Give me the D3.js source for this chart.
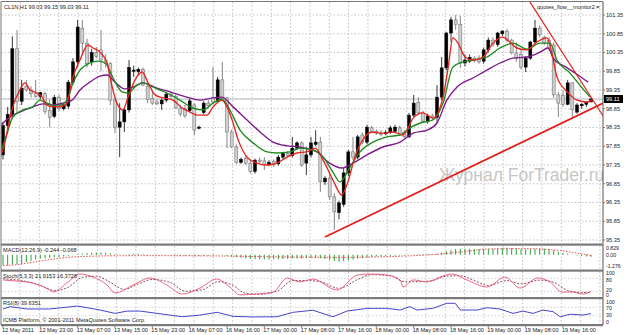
<!DOCTYPE html>
<meta charset="utf-8">
<style>
  body { margin: 0; background: #fff; }
  svg { display: block; font-family: "Liberation Sans", Arial, sans-serif; }
</style>
<body>
<svg id="chart" width="624" height="335"></svg>
<script src="https://cdn.jsdelivr.net/npm/d3@7/dist/d3.min.js"></script>
<script>

// time axis labels, one every 8 bars
var timeLabels = ["12 May 2011","12 May 23:00","13 May 07:00","13 May 15:00","15 May 23:00","16 May 07:00",
  "16 May 16:00","17 May 00:00","17 May 08:00","17 May 16:00","18 May 00:00","18 May 08:00",
  "18 May 16:00","19 May 00:00","19 May 08:00","19 May 16:00"];
var priceTicks = [101.35,100.85,100.35,99.85,99.35,98.85,98.35,97.85,97.35,96.85,96.35,95.85,95.35];

// H1 candles: open, high, low, close
var candles = [
  [97.62,98.50,97.50,98.40],[98.40,98.90,98.20,98.70],[98.70,100.78,98.60,100.45],[100.45,100.95,98.75,99.05],
  [99.05,99.62,98.95,99.40],[99.45,99.62,99.30,99.35],[99.35,99.45,99.15,99.25],[99.25,99.62,99.15,99.18],
  [99.18,99.30,99.10,99.28],[99.25,99.30,98.70,98.78],[98.80,99.10,98.35,98.62],[98.65,99.22,98.60,99.15],
  [99.15,99.22,98.78,98.85],[98.85,98.98,98.80,98.95],[98.92,99.62,98.85,99.56],[99.56,100.20,99.50,100.10],
  [100.10,101.22,99.95,101.03],[101.00,101.22,100.30,100.60],[100.60,100.72,99.95,100.05],[100.10,100.45,100.00,100.35],
  [100.35,100.50,100.20,100.25],[100.42,100.95,99.85,100.15],[100.15,100.30,99.95,100.05],[100.05,100.10,98.95,99.08],
  [99.08,99.15,98.20,98.36],[98.36,99.00,97.56,98.50],[98.50,98.90,98.23,98.82],[98.82,100.15,98.75,99.95],
  [99.85,100.00,99.70,99.88],[99.84,99.95,99.75,99.90],[99.90,99.95,99.45,99.48],[99.45,99.50,99.00,99.10],
  [99.12,99.35,98.95,99.00],[99.03,99.10,98.95,98.98],[98.98,99.12,98.82,99.08],[99.08,99.30,99.02,99.24],
  [99.24,99.30,99.12,99.18],[99.18,99.22,98.85,98.87],[98.87,98.95,98.65,98.71],[98.85,98.95,98.60,98.66],
  [98.80,99.12,98.75,99.06],[98.95,99.00,98.15,98.28],[98.33,98.40,98.30,98.36],[98.75,99.05,98.70,99.00],
  [99.00,99.08,98.90,98.93],[99.14,99.96,98.98,99.03],[99.05,99.70,99.00,99.62],[99.62,100.10,99.10,99.14],
  [99.14,99.16,97.80,98.23],[98.23,98.30,97.80,97.83],[97.83,97.90,97.38,97.42],[97.42,97.55,97.38,97.50],
  [97.52,97.60,97.35,97.40],[97.40,97.50,97.12,97.18],[97.18,97.52,97.12,97.48],[97.48,97.55,97.40,97.44],
  [97.46,97.56,97.22,97.36],[97.36,97.48,97.32,97.42],[97.44,97.50,97.30,97.36],[97.38,97.62,97.34,97.56],
  [97.56,97.70,97.50,97.66],[97.66,97.72,97.55,97.60],[97.60,98.10,97.55,97.80],[97.80,97.98,97.75,97.94],
  [97.94,97.98,97.30,97.35],[97.40,97.83,97.08,97.62],[97.62,98.10,97.55,97.94],[97.90,98.28,97.85,97.96],
  [97.96,98.10,96.63,96.90],[96.90,97.05,96.82,97.00],[97.00,97.14,96.42,96.50],[96.50,96.60,95.62,96.10],
  [96.08,96.40,95.90,96.34],[96.30,97.27,96.23,97.14],[97.14,97.75,97.05,97.70],[97.70,98.10,97.48,97.56],
  [97.56,98.15,97.50,98.10],[98.15,98.22,97.90,97.96],[97.96,98.42,97.90,98.36],[98.34,98.40,98.20,98.25],
  [98.25,98.30,98.15,98.20],[98.20,98.28,98.12,98.16],[98.18,98.28,98.14,98.22],[98.22,98.40,98.18,98.34],
  [98.24,98.42,98.20,98.36],[98.34,98.40,98.18,98.20],[98.22,98.28,98.06,98.10],[98.10,98.74,98.07,98.68],
  [98.68,99.22,98.63,99.00],[99.02,99.16,98.68,98.74],[98.74,98.80,98.48,98.52],[98.52,98.72,98.45,98.66],
  [98.66,98.72,98.55,98.62],[98.62,99.48,98.47,99.16],[99.16,100.23,99.08,99.94],[99.94,100.90,99.88,100.87],
  [100.87,101.30,100.63,101.22],[101.22,101.35,100.95,101.10],[101.10,101.33,99.94,100.07],[100.07,100.30,99.98,100.15],
  [100.12,100.30,100.07,100.22],[100.20,100.25,100.08,100.14],[100.20,100.28,100.05,100.10],[100.12,100.48,100.05,100.42],
  [100.42,100.75,100.35,100.68],[100.68,100.75,100.50,100.56],[100.56,100.90,100.50,100.87],[100.85,100.95,100.78,100.92],
  [100.92,100.98,100.62,100.68],[100.68,100.72,100.30,100.34],[100.34,100.62,100.10,100.20],[100.30,100.45,99.90,99.96],
  [99.96,100.25,99.83,100.20],[100.20,100.66,100.15,100.63],[100.63,101.22,100.58,101.00],[101.00,101.08,100.76,100.82],
  [100.76,100.80,100.55,100.60],[100.68,100.76,100.40,100.47],[100.55,100.62,99.14,99.22],[99.22,99.30,98.63,99.00],
  [99.20,99.35,98.90,98.97],[98.97,99.62,98.94,99.54],[99.54,99.56,98.63,98.82],[98.76,99.00,98.72,98.95],
  [98.93,99.00,98.85,98.97],[98.97,99.05,98.90,99.02],[99.03,99.15,99.03,99.11]
];

// moving averages: [bar, price]
var maRed = [[-0.6,97.56],[0.4,97.94],[1.5,98.63],[3.6,99.35],[4.7,99.54],[5.8,99.35],[7.3,99.27],[8.4,99.16],
  [9.4,98.95],[10.7,98.90],[12.2,98.90],[13.7,99.00],[14.8,99.62],[16.5,100.15],[18.2,100.55],[19.3,100.47],
  [20.8,100.36],[22.3,100.07],[23.4,99.43],[24.4,99.00],[25.7,98.82],[26.8,99.16],[28.3,99.62],[29.8,99.83],
  [31.1,99.54],[32.6,99.22],[34.3,99.14],[36.4,99.08],[38.4,98.87],[40.1,98.76],[41.6,98.68],[43.7,98.68],
  [45,98.90],[46.9,99.08],[48,98.90],[49.1,98.55],[50.4,98.02],[52.3,97.56],[54.4,97.40],[56.6,97.35],
  [58.7,97.40],[60.9,97.56],[63,97.67],[65.1,97.70],[66.9,97.80],[68.6,97.48],[70.7,96.95],[72.6,96.55],
  [73.9,96.90],[75.4,97.56],[77.1,98.02],[79.1,98.23],[81.4,98.20],[83.6,98.23],[85.7,98.15],[87.9,98.60],
  [90,98.74],[92.1,98.60],[94.3,99.16],[95.4,99.96],[96.4,100.74],[97.5,100.60],[99,100.23],[100.7,100.15],
  [102.9,100.23],[105,100.60],[107.1,100.76],[108.6,100.63],[110.1,100.47],[112.3,100.42],[114.4,100.63],
  [116.6,100.74],[117.6,100.34],[118.7,99.70],[120.9,99.30],[123,99.08],[125.1,99.03],[126.2,99.08]];
var maGreen = [[-0.6,97.67],[0,97.88],[0.9,98.20],[2.1,98.63],[4.3,98.82],[6.4,98.90],[7.9,99.08],[9.4,99.00],
  [11.6,98.92],[13.7,99.08],[15,99.54],[16.5,99.88],[18.6,100.07],[20.4,100.12],[21.9,100.07],[23.6,99.67],
  [25.5,99.30],[26.8,99.27],[28.7,99.48],[30,99.54],[32.1,99.43],[35.1,99.27],[37.9,99.08],[40.7,98.87],
  [42.9,98.82],[45,99.00],[46.9,99.11],[48.6,98.82],[50.8,98.28],[53.6,97.94],[56.6,97.70],[58.7,97.67],
  [61.5,97.70],[63.6,97.80],[66.4,97.75],[68.6,97.56],[70.7,97.16],[72.2,96.90],[74.4,97.30],[76.5,97.70],
  [79.3,97.96],[82.3,98.10],[85.1,98.15],[87.2,98.34],[89.4,98.47],[92.1,98.55],[94.3,99.00],[96.4,99.96],
  [98.6,100.10],[100.7,100.15],[103.7,100.23],[106.5,100.47],[109.3,100.60],[112.3,100.44],[115.1,100.60],
  [117.2,100.60],[118.7,100.15],[121.5,99.80],[123.6,99.48],[125.8,99.16]];
var maPurple = [[-0.6,98.40],[0,98.47],[1.5,98.63],[3.6,98.76],[6.4,98.90],[8.6,98.98],[10.7,98.95],[12.9,99.00],
  [14.8,99.08],[16.5,99.35],[18.6,99.56],[20.8,99.72],[22.3,99.75],[24,99.56],[26.1,99.38],[27.9,99.43],
  [30,99.54],[33,99.40],[35.8,99.30],[39.4,99.16],[42.2,99.08],[45,99.14],[46.9,99.16],[49.3,98.90],
  [52.3,98.55],[55.1,98.23],[57.9,97.96],[60.9,97.86],[63.6,97.83],[67.3,97.70],[70,97.40],[72.6,97.27],
  [75,97.40],[78,97.62],[81.4,97.83],[85.1,97.96],[87.9,98.20],[90.9,98.28],[93,98.47],[95.1,99.08],
  [97.3,99.43],[100.7,99.67],[103.7,99.88],[106.5,100.07],[109.3,100.20],[112.3,100.23],[115.1,100.36],
  [116.8,100.47],[117.9,100.20],[120.9,99.94],[123.2,99.75],[125.4,99.56]];

// trend lines drawn on the chart: [bar, price]
var supportLine = [[69, 95.43], [129, 99.02]];
var resistanceLine = [[112.9, 101.70], [129, 98.58]];

// MACD(12,26,9): main histogram per bar, signal [bar, value]
var macdMain = [-1.20,-1.22,-1.15,-1.10,-1.05,-0.85,-0.70,-0.55,-0.45,-0.40,
  -0.35,-0.30,-0.25,-0.20,-0.12,-0.05,0.05,
  0.15,0.22,0.25,0.28,0.28,0.25,0.18,0.08,0.02,0.05,0.10,0.12,0.12,
  0.10,0.06,0.03,0.0,-0.02,-0.03,-0.05,-0.08,-0.10,-0.12,-0.12,-0.15,-0.14,-0.12,-0.10,-0.08,-0.05,-0.06,-0.12,-0.20,
  -0.28,-0.35,-0.42,-0.48,-0.52,-0.55,-0.55,-0.56,-0.55,-0.52,-0.50,-0.48,-0.45,-0.42,-0.42,-0.40,-0.38,-0.36,-0.42,-0.50,
  -0.60,-0.72,-0.80,-0.75,-0.65,-0.55,-0.45,-0.38,-0.30,-0.25,-0.20,-0.18,-0.15,-0.12,-0.10,-0.08,-0.08,-0.02,0.05,0.08,
  0.08,0.08,0.07,0.12,0.25,0.42,0.58,0.68,0.72,0.72,
  0.70,0.68,0.66,0.66,0.68,0.70,0.74,0.78,0.83,0.78,
  0.74,0.68,0.64,0.66,0.72,0.74,0.72,0.68,0.52,0.35,
  0.22,0.14,0.02,-0.08,-0.15,-0.20,-0.24];
var macdSignal = [[0,-1.27],[3,-1.15],[6,-0.90],[9,-0.65],[12,-0.42],[16,-0.22],[24,-0.12],[32,-0.10],[40,-0.12],
  [48,-0.15],[56,-0.22],[64,-0.28],[72,-0.30],[80,-0.25],[88,-0.10],[94,0.10],[100,0.45],[104,0.68],
  [112,0.72],[116,0.65],[120,0.45],[124,0.10],[126,-0.07]];

// Stochastic(5,3,3)
var stochMain = [[0,73],[3,68],[6.4,59],[10,27],[10.7,18],[13.7,59],[16.5,100],[19.3,86],[22.3,50],[24,14],
  [27.9,50],[31.5,82],[35.1,50],[38.4,9],[42.2,36],[45.8,77],[48.6,41],[50.8,5],[54.4,9],[57.9,18],[60.9,82],
  [63.6,64],[66.4,77],[71.6,27],[75.9,95],[78.6,100],[82.3,95],[85.1,73],[85.7,41],[87.9,73],[90.9,64],[93.6,86],
  [96.2,100],[99.4,73],[103.7,41],[107.6,86],[110.8,36],[114.6,82],[117.2,64],[119.8,18],[122.1,18],[124.3,9],[126,22]];
var stochSignal = [[0,78],[4,70],[8,48],[11,25],[14,40],[17,85],[20,90],[23,62],[26,30],[29,55],[32,75],[36,60],
  [39,22],[43,30],[46,65],[49,52],[52,12],[55,8],[59,25],[62,70],[65,70],[68,65],[72,35],[76,75],[79,97],[83,92],
  [86,65],[89,65],[92,70],[95,90],[98,92],[101,70],[104,48],[108,70],[111,55],[115,72],[118,62],[121,25],[124,16],[126,16]];

// RSI(8)
var rsiValues = [[0,62],[1.5,73],[5.1,62],[10,62],[16,76],[20.8,57],[24,41],[26.6,52],[29.4,52],[33,41],[38.4,25],
  [42.2,33],[45.9,46],[49.3,27],[53.6,24],[58.7,25],[62.1,46],[66.4,56],[70.7,25],[73.7,52],[78,65],[82.3,65],
  [85.1,57],[87.2,73],[88.7,57],[92.1,65],[95.1,89],[96.9,89],[98,57],[101.6,57],[103.7,68],[106.5,62],[109.3,41],
  [111.4,52],[113.6,41],[115.7,57],[117.9,49],[119.4,25],[121.5,37],[124.3,33],[126,40]];

var lastPrice = 99.11;

var svg = d3.select("#chart");
var plotL = 1, plotR = 603;

var x = d3.scaleLinear().domain([0, 126]).range([3, 591]);
var yMain = d3.scaleLinear().domain([95.35, 101.35]).range([240, 15]);
var yMacd = d3.scaleLinear().domain([-1.276, 0.829]).range([265.7, 247.7]);
var yStoch = d3.scaleLinear().domain([0, 100]).range([296, 274]);
var yRsi = d3.scaleLinear().domain([0, 100]).range([322, 301]);

var panels = [
  {top: 2, bottom: 243},
  {top: 246, bottom: 269.5},
  {top: 272, bottom: 297},
  {top: 299, bottom: 324}
];

svg.append("defs").selectAll("clipPath").data(panels).join("clipPath")
  .attr("id", (d, i) => "clip" + i)
  .append("rect")
  .attr("x", plotL).attr("y", d => d.top)
  .attr("width", plotR - plotL).attr("height", d => d.bottom - d.top);

// vertical grid (fixed pixel spacing, like the terminal)
var gridX = d3.range(20, plotR, 19.33);
panels.forEach(function(p) {
  svg.append("g").selectAll("line").data(gridX).join("line")
    .attr("x1", d => d).attr("x2", d => d)
    .attr("y1", p.top).attr("y2", p.bottom)
    .attr("stroke", "#a9a9a9").attr("stroke-width", 0.7)
    .attr("stroke-dasharray", "1.5,2");
});

// horizontal grid in main panel
svg.append("g").selectAll("line").data(priceTicks).join("line")
  .attr("x1", plotL).attr("x2", plotR)
  .attr("y1", d => yMain(d)).attr("y2", d => yMain(d))
  .attr("stroke", "#a9a9a9").attr("stroke-width", 0.7)
  .attr("stroke-dasharray", "1.5,2");

// level lines in oscillators
svg.append("g").selectAll("line").data([80, 20]).join("line")
  .attr("x1", plotL).attr("x2", plotR)
  .attr("y1", d => yStoch(d)).attr("y2", d => yStoch(d))
  .attr("stroke", "#b5b5b5").attr("stroke-width", 0.6).attr("stroke-dasharray", "1.5,2");
svg.append("g").selectAll("line").data([70, 30]).join("line")
  .attr("x1", plotL).attr("x2", plotR)
  .attr("y1", d => yRsi(d)).attr("y2", d => yRsi(d))
  .attr("stroke", "#b5b5b5").attr("stroke-width", 0.6).attr("stroke-dasharray", "1.5,2");

// watermark
svg.append("text")
  .attr("x", 439).attr("y", 181)
  .attr("font-size", 17.5).attr("fill", "#c6c6c6")
  .text("Журнал ForTrader.ru");

// bid line
svg.append("line")
  .attr("x1", plotL).attr("x2", plotR)
  .attr("y1", yMain(lastPrice)).attr("y2", yMain(lastPrice))
  .attr("stroke", "#a0a0a0").attr("stroke-width", 0.8);

var main = svg.append("g").attr("clip-path", "url(#clip0)");

// candles
main.append("g").selectAll("line").data(candles).join("line")
  .attr("x1", (d, i) => x(i)).attr("x2", (d, i) => x(i))
  .attr("y1", d => yMain(d[1])).attr("y2", d => yMain(d[2]))
  .attr("stroke", d => d[3] >= d[0] ? "#222" : "#777").attr("stroke-width", 0.9);

main.append("g").selectAll("rect").data(candles).join("rect")
  .attr("x", (d, i) => x(i) - 1.5).attr("width", 3)
  .attr("y", d => yMain(Math.max(d[0], d[3])))
  .attr("height", d => Math.max(0.8, Math.abs(yMain(d[0]) - yMain(d[3]))))
  .attr("fill", d => d[3] >= d[0] ? "#000" : "#cfcfcf")
  .attr("stroke", d => d[3] >= d[0] ? "#000" : "#666")
  .attr("stroke-width", 0.5);

// moving averages
var maLine = d3.line().x(d => x(d[0])).y(d => yMain(d[1])).curve(d3.curveMonotoneX);
[[maPurple, "#7d1a8c"], [maGreen, "#1d8a1d"], [maRed, "#e5241e"]].forEach(function(m) {
  main.append("path").datum(m[0])
    .attr("d", maLine).attr("fill", "none")
    .attr("stroke", m[1]).attr("stroke-width", 1.35);
});

// trend lines
var tLine = d3.line().x(d => x(d[0])).y(d => yMain(d[1]));
main.append("path").datum(supportLine).attr("d", tLine)
  .attr("stroke", "#e0201c").attr("stroke-width", 1.8).attr("fill", "none");
main.append("path").datum(resistanceLine).attr("d", tLine)
  .attr("stroke", "#e0201c").attr("stroke-width", 1.2).attr("fill", "none");

// MACD
var macdG = svg.append("g").attr("clip-path", "url(#clip1)");
macdG.append("g").selectAll("line").data(macdMain).join("line")
  .attr("x1", (d, i) => x(i)).attr("x2", (d, i) => x(i))
  .attr("y1", yMacd(0)).attr("y2", d => yMacd(d))
  .attr("stroke", "#2f9e3a").attr("stroke-width", 1);
macdG.append("path").datum(macdSignal)
  .attr("d", d3.line().x(d => x(d[0])).y(d => yMacd(d[1])).curve(d3.curveMonotoneX))
  .attr("fill", "none").attr("stroke", "#e03a3a").attr("stroke-width", 0.9)
  .attr("stroke-dasharray", "1.5,1.5");

// Stochastic
var stG = svg.append("g").attr("clip-path", "url(#clip2)");
var stLine = d3.line().x(d => x(d[0])).y(d => yStoch(d[1])).curve(d3.curveMonotoneX);
stG.append("path").datum(stochSignal).attr("d", stLine)
  .attr("fill", "none").attr("stroke", "#70202c").attr("stroke-width", 0.8)
  .attr("stroke-dasharray", "2,1.5");
stG.append("path").datum(stochMain).attr("d", stLine)
  .attr("fill", "none").attr("stroke", "#e8557a").attr("stroke-width", 0.9);

// RSI
var rsiG = svg.append("g").attr("clip-path", "url(#clip3)");
rsiG.append("path").datum(rsiValues)
  .attr("d", d3.line().x(d => x(d[0])).y(d => yRsi(d[1])))
  .attr("fill", "none").attr("stroke", "#4646cc").attr("stroke-width", 1);

// frames and separators
svg.append("line").attr("x1", plotL).attr("x2", plotR).attr("y1", 1.5).attr("y2", 1.5)
  .attr("stroke", "#777").attr("stroke-width", 1);
svg.append("line").attr("x1", 1).attr("x2", 1).attr("y1", 1.5).attr("y2", 325)
  .attr("stroke", "#777").attr("stroke-width", 1);
svg.append("line").attr("x1", plotR).attr("x2", plotR).attr("y1", 1.5).attr("y2", 325)
  .attr("stroke", "#555").attr("stroke-width", 1);
svg.append("g").selectAll("rect").data([243.5, 269.5, 297, 324]).join("rect")
  .attr("x", plotL).attr("width", plotR - plotL)
  .attr("y", d => d).attr("height", 2.2)
  .attr("fill", "#7a7a7a");

// right axis labels
var axisFont = 5.6;
svg.append("g").selectAll("text").data(priceTicks).join("text")
  .attr("x", 606).attr("y", d => yMain(d)).attr("dy", "0.35em")
  .attr("font-size", axisFont).attr("fill", "#222")
  .text(d => d.toFixed(2));
svg.append("g").selectAll("line").data(priceTicks).join("line")
  .attr("x1", plotR).attr("x2", plotR + 2)
  .attr("y1", d => yMain(d)).attr("y2", d => yMain(d))
  .attr("stroke", "#555").attr("stroke-width", 0.7);

svg.append("rect").attr("x", plotR + 1).attr("y", yMain(lastPrice) - 4)
  .attr("width", 19).attr("height", 8).attr("fill", "#000");
svg.append("text").attr("x", 606).attr("y", yMain(lastPrice)).attr("dy", "0.35em")
  .attr("font-size", axisFont).attr("fill", "#fff").text(lastPrice.toFixed(2));

// oscillator level labels; nudged apart where the levels sit close together
var subLabels = [
  [yMacd(0.829), "0.829"], [yMacd(0), "0.00"], [yMacd(-1.276), "-1.276"],
  [yStoch(100) - 1.2, "100"], [yStoch(80) + 1.6, "80"], [yStoch(20) - 1.8, "20"], [yStoch(0) - 0.6, "0"],
  [yRsi(100) + 0.8, "100"], [yRsi(70) + 1, "70"], [yRsi(30) - 0.6, "30"], [yRsi(0), "0"]
];
svg.append("g").selectAll("text").data(subLabels).join("text")
  .attr("x", 606).attr("y", d => d[0]).attr("dy", "0.35em")
  .attr("font-size", 5.2).attr("fill", "#222")
  .text(d => d[1]);

// time axis
svg.append("g").selectAll("text").data(timeLabels).join("text")
  .attr("x", (d, i) => x(i * 8) - 1).attr("y", 332)
  .attr("font-size", axisFont).attr("fill", "#222")
  .text(d => d);
svg.append("g").selectAll("line").data(timeLabels).join("line")
  .attr("x1", (d, i) => x(i * 8)).attr("x2", (d, i) => x(i * 8))
  .attr("y1", 326).attr("y2", 328)
  .attr("stroke", "#555").attr("stroke-width", 0.7);

// captions
var caps = [
  [4, 9, "CL1N,H1  99.03 99.15 99.03 99.11"],
  [3, 251.5, "MACD(12,26,9) -0.244 -0.068"],
  [3, 277.5, "Stoch(5,3,3) 21.9153 16.3728"],
  [3, 304.5, "RSI(8) 39.6351"],
  [3, 321.5, "ICMB Platform, \u00a9 2001-2011 MetaQuotes Software Corp."],
  [537, 8.5, "quotes_flow__monitor2"]
];
svg.append("g").selectAll("text").data(caps).join("text")
  .attr("x", d => d[0]).attr("y", d => d[1])
  .attr("font-size", axisFont).attr("fill", "#222")
  .text(d => d[2]);
svg.append("text").attr("x", 596).attr("y", 8.5)
  .attr("font-size", 6).attr("font-weight", "bold").attr("fill", "#333").text("\u00d7");

</script>
</body>
